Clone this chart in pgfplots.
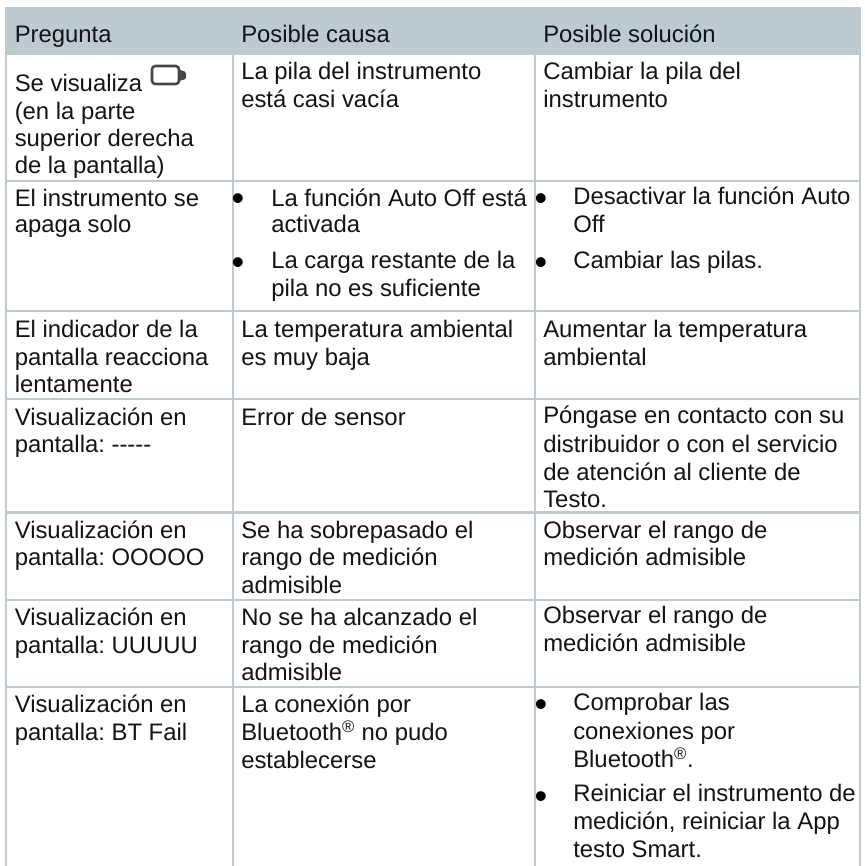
\documentclass[border=0pt]{standalone}
\usepackage{fontspec}
\setmainfont{Liberation Sans}
\frenchspacing
\usepackage{pgfplots}
\pgfplotsset{compat=1.18}
\definecolor{hdr}{HTML}{BDCAD0}
\newcommand{\T}[3]{\node[anchor=base west,inner sep=0pt,text=black!92] at (axis cs:#1,#2) {#3};}
\newcommand{\B}[2]{\node[anchor=base,inner sep=0pt,text=black] at (axis cs:#1,#2+2.5) {\fontsize{27}{27}\selectfont •};}
\begin{document}
\begin{tikzpicture}
\begin{axis}[
  width=648pt,height=649.5pt,scale only axis,
  hide axis,enlargelimits=false,clip=true,
  xmin=0,xmax=864,ymin=0,ymax=866,y dir=reverse,
  font=\fontsize{17.9}{21}\selectfont,
]
\addplot[draw=white,fill=white,line width=0pt] coordinates {(0,0)(864,0)(864,866)(0,866)} \closedcycle;
\addplot[draw=none,fill=hdr] coordinates {(5,7)(861,7)(861,55)(5,55)} --cycle;
% vertical rules
\addplot[hdr,line width=1.7pt] coordinates {(6,55)(6,866)};
\addplot[hdr,line width=1.7pt] coordinates {(232.7,55)(232.7,866)};
\addplot[hdr,line width=1.7pt] coordinates {(535,55)(535,866)};
\addplot[hdr,line width=1.7pt] coordinates {(860,55)(860,866)};
% horizontal rules
\addplot[hdr,line width=1.7pt] coordinates {(5,181)(861,181)};
\addplot[hdr,line width=1.7pt] coordinates {(5,311)(861,311)};
\addplot[hdr,line width=1.7pt] coordinates {(5,399)(861,399)};
\addplot[hdr,line width=1.7pt] coordinates {(5,512.5)(861,512.5)};
\addplot[hdr,line width=1.7pt] coordinates {(5,600)(861,600)};
\addplot[hdr,line width=1.7pt] coordinates {(5,687)(861,687)};
% header
\T{14.5}{42.5}{Pregunta}
\T{241}{42.5}{Posible causa}
\T{543}{42.5}{Posible solución}
% row 1
\T{14.5}{92}{Se visualiza}
\T{14.5}{119.5}{(en la parte}
\T{14.5}{146.5}{superior derecha}
\T{14.5}{173.5}{de la pantalla)}
\T{241}{80}{La pila del instrumento}
\T{241}{107.5}{está casi vacía}
\T{543}{80}{Cambiar la pila del}
\T{543}{108}{instrumento}
\draw[black!72,line width=1.9pt,rounded corners=2.5pt] (axis cs:152,66) rectangle (axis cs:179,84);
\fill[black!72,rounded corners=1pt] (axis cs:179,69.5) -- (axis cs:186,72) -- (axis cs:186,79) -- (axis cs:179,81) -- cycle;
% row 2
\T{14.5}{206}{El instrumento se}
\T{14.5}{233}{apaga solo}
\B{238}{208}
\T{271}{206}{La función Auto Off está}
\T{271}{233}{activada}
\B{238}{271.7}
\T{271}{268.5}{La carga restante de la}
\T{271}{296.5}{pila no es suficiente}
\B{541}{208}
\T{573}{204.5}{Desactivar la función Auto}
\T{573}{232.5}{Off}
\B{541}{271.7}
\T{573}{268.5}{Cambiar las pilas.}
% row 3
\T{14.5}{337.5}{El indicador de la}
\T{14.5}{365}{pantalla reacciona}
\T{14.5}{392.5}{lentamente}
\T{241}{337.5}{La temperatura ambiental}
\T{241}{365}{es muy baja}
\T{543}{337.5}{Aumentar la temperatura}
\T{543}{365}{ambiental}
% row 4
\T{14.5}{425}{Visualización en}
\T{14.5}{452}{pantalla: -{}-{}-{}-{}-}
\T{241}{425}{Error de sensor}
\T{543}{423.5}{Póngase en contacto con su}
\T{543}{452}{distribuidor o con el servicio}
\T{543}{480}{de atención al cliente de}
\T{543}{507}{Testo.}
% row 5
\T{14.5}{538}{Visualización en}
\T{14.5}{565}{pantalla: OOOOO}
\T{241}{538}{Se ha sobrepasado el}
\T{241}{565}{rango de medición}
\T{241}{593}{admisible}
\T{543}{538}{Observar el rango de}
\T{543}{565.5}{medición admisible}
% row 6
\T{14.5}{625}{Visualización en}
\T{14.5}{653}{pantalla: UUUUU}
\T{241}{625}{No se ha alcanzado el}
\T{241}{653}{rango de medición}
\T{241}{680}{admisible}
\T{543}{623}{Observar el rango de}
\T{543}{651.5}{medición admisible}
% row 7
\T{14.5}{712.5}{Visualización en}
\T{14.5}{740.5}{pantalla: BT Fail}
\T{241}{712.5}{La conexión por}
\T{241}{740.5}{Bluetooth\textsuperscript{®} no pudo}
\T{241}{768}{establecerse}
\B{541}{714}
\T{573}{710}{Comprobar las}
\T{573}{739}{conexiones por}
\T{573}{767.5}{Bluetooth\textsuperscript{®}.}
\B{541}{805.5}
\T{573}{801}{Reiniciar el instrumento de}
\T{573}{829}{medición, reiniciar la App}
\T{573}{857}{testo Smart.}
\end{axis}
\end{tikzpicture}
\end{document}
